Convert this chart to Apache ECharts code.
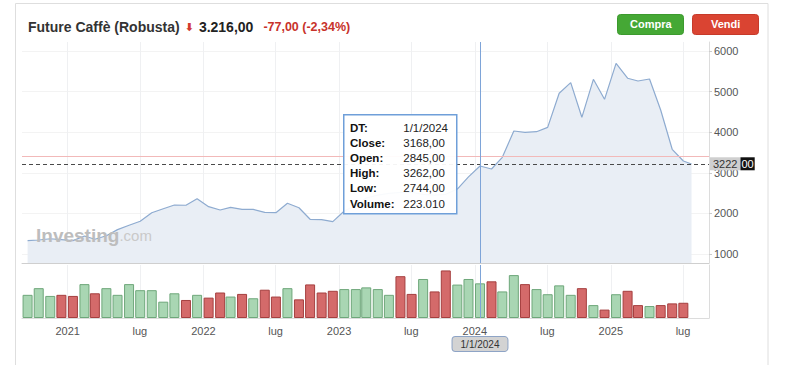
<!DOCTYPE html>
<html><head><meta charset="utf-8">
<script src="https://cdn.jsdelivr.net/npm/echarts@6/dist/echarts.min.js"></script>
<style>html,body{margin:0;padding:0;background:#fff;overflow:hidden}#c{width:787px;height:365px}</style>
</head><body><div id="c"></div>
<script>
// Monthly bars (Sep 2020 .. Jul 2025)
const months = ['2020-09','2020-10','2020-11','2020-12',
 '2021-01','2021-02','2021-03','2021-04','2021-05','2021-06','2021-07','2021-08','2021-09','2021-10','2021-11','2021-12',
 '2022-01','2022-02','2022-03','2022-04','2022-05','2022-06','2022-07','2022-08','2022-09','2022-10','2022-11','2022-12',
 '2023-01','2023-02','2023-03','2023-04','2023-05','2023-06','2023-07','2023-08','2023-09','2023-10','2023-11','2023-12',
 '2024-01','2024-02','2024-03','2024-04','2024-05','2024-06','2024-07','2024-08','2024-09','2024-10','2024-11','2024-12',
 '2025-01','2025-02','2025-03','2025-04','2025-05','2025-06','2025-07'];
const closes = [1328,1345,1375,1355,1328,1443,1362,1450,1600,1707,
 1805,2017,2115,2207,2200,2362,2165,2084,2150,2100,
 2100,2027,2017,2249,2140,1855,1845,1796,2059,2200,
 2380,2450,2495,2520,2520,2470,2450,2470,2600,2900,
 3168,3094,3382,4030,3998,4012,4120,4958,5220,4367,
 5303,4810,5697,5330,5261,5310,4547,3579,3290];
// volume in thousands of contracts
const volumes = [149,192,142,149,142,218,159,192,149,218,
 179,179,105,159,116,149,131,164,138,155,
 127,182,138,192,120,216,164,175,186,186,
 197,186,149,269,155,251,171,306,215,251,
 223.01,236,171,276,218,186,153,210,149,192,
 83,54,153,175,83,77,83,94,98];
// 1 = up bar (green), -1 = down bar (red)
const dirs = [1,1,1,-1,-1,1,-1,1,1,1,
 1,1,1,1,-1,1,-1,-1,1,-1,
 1,-1,-1,1,-1,-1,-1,-1,1,1,
 1,1,1,-1,-1,1,-1,-1,1,1,
 1,-1,1,1,-1,1,1,1,1,-1,
 1,-1,1,-1,-1,1,-1,-1,-1];
const lastDate = '2025-08-06';
const lastPrice = 3216;
const currentLevel = 3222;
const prevLevel = 3414;
const priceTicks = [1000,2000,3000,4000,5000,6000];
const timeTicks = ['2021-01-01','2021-07-14','2022-01-01','2022-07-14','2023-01-01','2023-07-14',
                   '2024-01-01','2024-07-14','2025-01-01','2025-07-14'];
const tipRowsLabel = ['DT:','Close:','Open:','High:','Low:','Volume:'];
const tipRowsValue = ['1/1/2024','3168,00','2845,00','3262,00','2744,00','223.010'];
const pointerDate = '2024-01-15';
const xRange = ['2020-08-31', '2025-09-22'];

const ts = s => { const p = s.split('-'); return Date.UTC(+p[0], +p[1]-1, +(p[2] || 1)); };
const priceData = months.map((m,i)=>[ts(m+'-15'), closes[i]]).concat([[ts(lastDate), lastPrice]]);
const volData = months.map((m,i)=>({value:[ts(m+'-15'), volumes[i]],
  itemStyle: dirs[i] > 0 ? {color:'#a9d6b3', borderColor:'#6ea77a'} : {color:'#d46a6a', borderColor:'#a53f3f'}}));
const tickTimes = timeTicks.map(ts);
const fmtX = function(v){ const d = new Date(v); const m = d.getUTCMonth();
  return m === 0 ? String(d.getUTCFullYear()) : (m === 6 ? 'lug' : ''); };
const FONT = 'Liberation Sans, Arial, sans-serif';

const chart = echarts.init(document.getElementById('c'), null, {renderer:'svg'});
chart.setOption({
  animation:false,
  backgroundColor:'#fff',
  title:{left:23, top:13, text:'{a|Future Caffè (Robusta)} {arr|⬇} {b|3.216,00}  {c|-77,00 (-2,34%)}',
    textStyle:{rich:{
      a:{fontFamily:FONT, fontSize:14, color:'#333'},
      arr:{fontFamily:'DejaVu Sans', fontSize:11, color:'#d23b30'},
      b:{fontFamily:FONT, fontSize:14, fontWeight:'bold', color:'#222'},
      c:{fontFamily:FONT, fontSize:12.5, color:'#c8322a'}
    }}},
  grid:[{left:22, right:78, top:42, height:221},{left:22, right:78, top:265, height:53}],
  axisPointer:{link:[{xAxisIndex:'all'}]},
  xAxis:[
    {type:'value', gridIndex:0, min:ts(xRange[0]), max:ts(xRange[1]),
     axisLine:{show:true, onZero:false, lineStyle:{color:'#cfcfcf'}}, axisTick:{show:false, customValues:tickTimes},
     axisLabel:{show:false, customValues:tickTimes},
     splitLine:{show:true, lineStyle:{color:'#eff0f2'}, customValues:tickTimes},
     axisPointer:{show:true, status:'show', value:ts(pointerDate), type:'line', triggerTooltip:false,
       lineStyle:{color:'#7ea4d8', width:1, type:'solid'}, label:{show:false}}},
    {type:'value', gridIndex:1, min:ts(xRange[0]), max:ts(xRange[1]),
     axisLine:{show:true, onZero:false, lineStyle:{color:'#dcdcdc'}}, axisTick:{show:false, customValues:tickTimes},
     axisLabel:{formatter:fmtX, customValues:tickTimes, color:'#555', fontSize:11, fontFamily:FONT, margin:7, hideOverlap:false},
     splitLine:{show:true, lineStyle:{color:'#eff0f2'}, customValues:tickTimes},
     axisPointer:{show:true, status:'show', value:ts(pointerDate), type:'line', triggerTooltip:false,
       lineStyle:{color:'#7ea4d8', width:1, type:'solid'},
       label:{show:true, formatter:'1/1/2024', margin:19, backgroundColor:'#d3d3d3', borderColor:'#8ea4c6',
         borderWidth:1, borderRadius:3, color:'#333', fontSize:10, fontFamily:FONT, padding:[2,8,2,8]}}}
  ],
  yAxis:[
    {type:'value', gridIndex:0, position:'right', min:778, max:6222,
     axisLine:{show:true, lineStyle:{color:'#dcdcdc'}},
     axisTick:{show:true, length:3, lineStyle:{color:'#cccccc'}, customValues:priceTicks},
     axisLabel:{customValues:priceTicks, formatter:v => String(v), color:'#555', fontSize:11, fontFamily:FONT, margin:5},
     splitLine:{show:true, lineStyle:{color:'#f3f3f3'}, customValues:priceTicks}},
    {type:'value', gridIndex:1, position:'right', min:0, max:341,
     axisLine:{show:true, lineStyle:{color:'#dcdcdc'}}, axisTick:{show:false}, axisLabel:{show:false}, splitLine:{show:false}}
  ],
  series:[
    {type:'line', xAxisIndex:0, yAxisIndex:0, data:priceData, symbol:'none', z:3,
     lineStyle:{color:'#8eabd0', width:1.2}, areaStyle:{color:'#e9eef5', opacity:1, origin:'start'},
     markLine:{silent:true, symbol:['none','none'], animation:false,
       data:[
        {yAxis:prevLevel, lineStyle:{color:'#f2b9b9', type:'solid', width:1}, label:{show:false}},
        {yAxis:currentLevel, lineStyle:{color:'#4a4a4a', type:[4,3], width:1},
         label:{show:true, position:'end', distance:1, formatter:'{a|3222}{b|00}',
          rich:{a:{backgroundColor:'#cfcfcf', color:'#333', fontSize:11, fontFamily:FONT, padding:[1,3,1,3], lineHeight:13},
                b:{backgroundColor:'#111', color:'#fff', fontSize:11, fontFamily:FONT, padding:[1,1,1,1], lineHeight:13}}}}
       ]}},
    {type:'bar', xAxisIndex:1, yAxisIndex:1, data:volData, barWidth:10, itemStyle:{borderWidth:1}}
  ],
  graphic:[
    {type:'rect', z:-10, silent:true, shape:{x:15.5, y:3.5, width:752.5, height:400}, style:{fill:'none', stroke:'#dedede', lineWidth:1}},
    {type:'text', z:10, left:36, top:226, silent:true,
     style:{text:'{a|Investing}{b|.com}', rich:{
       a:{fontFamily:FONT, fontWeight:'bold', fontSize:19, fill:'#bdbdbd'},
       b:{fontFamily:FONT, fontSize:15, fill:'#c9c9c9'}}}},
    {type:'rect', z:10, left:617, top:14, shape:{x:0, y:0, width:66, height:20, r:3}, style:{fill:'#45a835', stroke:'#3c9a2e'}},
    {type:'text', z:11, left:630, top:18, style:{text:'Compra', fill:'#fff', fontSize:11, fontWeight:'bold', fontFamily:FONT}},
    {type:'rect', z:10, left:692, top:14, shape:{x:0, y:0, width:66, height:20, r:3}, style:{fill:'#da4432', stroke:'#c63a2a'}},
    {type:'text', z:11, left:711, top:18, style:{text:'Vendi', fill:'#fff', fontSize:11, fontWeight:'bold', fontFamily:FONT}},
    {type:'rect', z:100, left:343, top:114, shape:{x:0, y:0, width:113, height:99}, style:{fill:'rgba(255,255,255,0.94)', stroke:'#6f9fd9', lineWidth:1.5}},
    {type:'text', z:101, left:350, top:120, style:{text:tipRowsLabel.join('\n'), fill:'#111', fontSize:11.5, fontWeight:'bold', lineHeight:15.2, fontFamily:FONT}},
    {type:'text', z:101, right:339, top:120, style:{text:tipRowsValue.join('\n'), fill:'#222', fontSize:11.5, lineHeight:15.2, align:'right', fontFamily:FONT}}
  ]
});
</script></body></html>
